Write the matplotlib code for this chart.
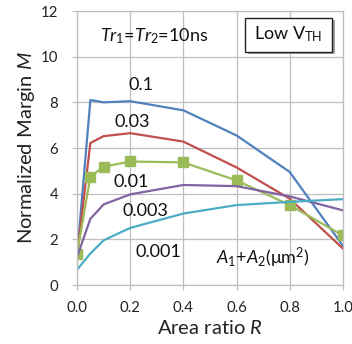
import matplotlib
matplotlib.use("Agg")
import matplotlib.pyplot as plt
from matplotlib.patches import FancyBboxPatch

plt.rcParams['font.family'] = ['Lato', 'DejaVu Sans']
plt.rcParams['mathtext.fontset'] = 'custom'
plt.rcParams['mathtext.rm'] = 'Lato'
plt.rcParams['mathtext.it'] = 'Lato:italic'

R = [0.0, 0.05, 0.1, 0.2, 0.4, 0.6, 0.8, 1.0]
m_01 = [1.3, 8.1, 8.0, 8.05, 7.65, 6.55, 4.95, 1.72]
m_003 = [1.3, 6.22, 6.52, 6.65, 6.28, 5.15, 3.78, 1.6]
m_001 = [1.37, 4.75, 5.18, 5.41, 5.37, 4.58, 3.5, 2.17]
m_0003 = [1.23, 2.9, 3.53, 3.97, 4.38, 4.33, 3.88, 3.27]
m_0001 = [0.67, 1.38, 1.96, 2.5, 3.13, 3.5, 3.64, 3.76]
area_labels = ['0.1', '0.03', '0.01', '0.003', '0.001']

fig = plt.figure(figsize=(3.52, 3.44), dpi=100)
ax = fig.add_axes([0.219, 0.1715, 0.755, 0.7965])

grid_c = '#BFBFBF'
ax.plot(R, m_01, color='#4F81BD', lw=1.6)
ax.plot(R, m_003, color='#C0504D', lw=1.6)
ax.plot(R, m_001, color='#9BBB59', lw=1.6, marker='s', ms=7, mec='#9BBB59')
ax.plot(R, m_0003, color='#8064A2', lw=1.6)
ax.plot(R, m_0001, color='#4BACC6', lw=1.6)

ax.set_xlim(0, 1.0)
ax.set_ylim(0, 12)
ax.set_xticks([0, 0.2, 0.4, 0.6, 0.8, 1.0])
ax.set_xticklabels(['0.0', '0.2', '0.4', '0.6', '0.8', '1.0'])
ax.set_yticks(range(0, 13, 2))
ax.grid(True, color=grid_c, lw=0.9)
ax.set_axisbelow(True)
for s in ax.spines.values():
    s.set_color(grid_c)
    s.set_linewidth(0.9)
ax.tick_params(colors=grid_c, labelcolor='#222222', labelsize=10.8, length=3.5, width=0.9)
ax.tick_params(axis='y', pad=10)
ax.tick_params(axis='x', pad=8)

ax.set_xlabel('Area ratio $R$', fontsize=14.5, color='#222222', labelpad=3)
ax.set_ylabel('Normalized Margin $M$', fontsize=14.5, color='#222222', labelpad=3)

kw = dict(fontsize=13, color='#111111', ha='center', va='center')
ax.text(0.24, 8.77, area_labels[0], **kw)
ax.text(0.209, 7.12, area_labels[1], **kw)
ax.text(0.203, 4.52, area_labels[2], **kw)
ax.text(0.256, 3.25, area_labels[3], **kw)
ax.text(0.305, 1.45, area_labels[4], **kw)
ax.text(0.697, 1.18, '$A_1$+$A_2$(μm$^2$)', **kw)
ax.text(0.291, 10.92, '$Tr_1$=$Tr_2$=10ns', **kw)

# Low V_TH box with shadow
bx0, by0, bw, bh = 0.632, 10.22, 0.327, 1.49
shadow = FancyBboxPatch((bx0 + 0.012, by0 - 0.12), bw, bh, boxstyle='square,pad=0',
                        fc='#A0A0A0', ec='none', zorder=4)
box = FancyBboxPatch((bx0, by0), bw, bh, boxstyle='square,pad=0',
                     fc='white', ec='#222222', lw=1.0, zorder=5)
ax.add_patch(shadow)
ax.add_patch(box)
ax.text(bx0 + bw / 2, by0 + bh / 2, 'Low V$_{\\mathrm{TH}}$', fontsize=13,
        color='#111111', ha='center', va='center', zorder=6)

fig.savefig('out.png', dpi=100)
